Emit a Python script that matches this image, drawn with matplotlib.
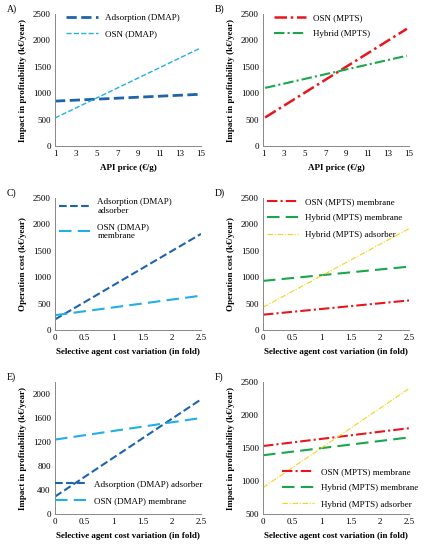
import matplotlib
matplotlib.use("Agg")
import matplotlib.pyplot as plt

plt.rcParams["font.family"] = ["Liberation Serif", "DejaVu Serif"]
plt.rcParams["font.size"] = 6.5
plt.rcParams["legend.labelspacing"] = 0.9

# ---------------------------------------------------------
# Data
# ---------------------------------------------------------
api_x = [1, 15]
a_ads = [850, 980]
a_osn = [530, 1860]

b_x = [1.2, 14.8]
b_osn = [540, 2220]
b_hyb = [1100, 1710]

fold_x = [0, 2.5]
c_ads = [200, 1820]
c_osn = [280, 650]

d_osn = [290, 560]
d_hyb_mem = [930, 1200]
d_hyb_ads = [430, 1920]

e_ads = [290, 1910]
e_osn = [1240, 1600]

f_osn = [1530, 1800]
f_hyb_mem = [1390, 1660]
f_hyb_ads = [900, 2400]

DBLUE = "#1f63ad"
LBLUE = "#22aee6"
RED = "#e8161c"
GREEN = "#1aa64a"
YELLOW = "#f6d21c"

fig = plt.figure(figsize=(4.33, 5.5), dpi=100)
W, H = 433, 550
boxes = [(55, 14, 146, 132), (263, 14, 146, 132),
         (55, 198, 146, 132), (263, 198, 146, 132),
         (55, 382, 146, 132), (263, 382, 146, 132)]
axs = [fig.add_axes([x / W, 1 - (y + h) / H, w / W, h / H]) for x, y, w, h in boxes]


def style(ax, label, xlab, ylab):
    for s in ["top", "right"]:
        ax.spines[s].set_visible(False)
    for s in ["left", "bottom"]:
        ax.spines[s].set_color("#888888")
        ax.spines[s].set_linewidth(0.7)
    ax.tick_params(length=0, labelsize=6.5, pad=3)
    ax.set_xlabel(xlab, fontsize=6.5, fontweight="bold")
    ax.set_ylabel(ylab, fontsize=6.5, fontweight="bold")
    ax.text(-0.33, 1.02, label, transform=ax.transAxes, fontsize=7)


def legend(ax, **kw):
    ax.legend(frameon=False, fontsize=6.5, handlelength=3.5, **kw)


imp = "Impact in profitability (k€/year)"
op = "Operation cost (k€/year)"
sel = "Selective agent cost variation (in fold)"
dd = (0, (5, 1.5, 1, 1.5))
folds = [0, 0.5, 1, 1.5, 2, 2.5]
fold_lbl = ["0", "0.5", "1", "1.5", "2", "2.5"]

ax = axs[0]
ax.plot(api_x, a_ads, "--", color=DBLUE, lw=2, label="Adsorption (DMAP)")
ax.plot(api_x, a_osn, "--", color=LBLUE, lw=1, label="OSN (DMAP)")
ax.set_xlim(1, 15); ax.set_ylim(0, 2500)
ax.set_xticks(range(1, 16, 2))
style(ax, "A)", "API price (€/g)", imp)
legend(ax, loc="upper left", borderaxespad=0, bbox_to_anchor=(0.05, 1.03))

ax = axs[1]
ax.plot(b_x, b_osn, color=RED, lw=1.8, linestyle=dd, label="OSN (MPTS)")
ax.plot(b_x, b_hyb, color=GREEN, lw=1.5, linestyle=dd, label="Hybrid (MPTS)")
ax.set_xlim(1, 15); ax.set_ylim(0, 2500)
ax.set_xticks(range(1, 16, 2))
style(ax, "B)", "API price (€/g)", imp)
legend(ax, loc="upper left", borderaxespad=0, bbox_to_anchor=(0.05, 1.03))

ax = axs[2]
ax.plot(fold_x, c_ads, "--", color=DBLUE, lw=1.5, label="Adsorption (DMAP)\nadsorber")
ax.plot(fold_x, c_osn, color=LBLUE, lw=1.5, linestyle=(0, (6, 3)), label="OSN (DMAP)\nmembrane")
ax.set_xlim(0, 2.5); ax.set_ylim(0, 2500)
ax.set_xticks(folds); ax.set_xticklabels(fold_lbl)
style(ax, "C)", sel, op)
legend(ax, loc="upper left", borderaxespad=0, bbox_to_anchor=(0.0, 1.03))

ax = axs[3]
ax.plot(fold_x, d_osn, color=RED, lw=1.5, linestyle=dd, label="OSN (MPTS) membrane")
ax.plot(fold_x, d_hyb_mem, color=GREEN, lw=1.5, linestyle=(0, (6, 3)), label="Hybrid (MPTS) membrane")
ax.plot(fold_x, d_hyb_ads, color=YELLOW, lw=0.8, linestyle=dd, label="Hybrid (MPTS) adsorber")
ax.set_xlim(0, 2.5); ax.set_ylim(0, 2500)
ax.set_xticks(folds); ax.set_xticklabels(fold_lbl)
style(ax, "D)", sel, op)
legend(ax, loc="upper left", borderaxespad=0, bbox_to_anchor=(0.0, 1.03))

ax = axs[4]
ax.plot(fold_x, e_ads, "--", color=DBLUE, lw=1.5, label="Adsorption (DMAP) adsorber")
ax.plot(fold_x, e_osn, color=LBLUE, lw=1.5, linestyle=(0, (6, 3)), label="OSN (DMAP) membrane")
ax.set_xlim(0, 2.5); ax.set_ylim(0, 2200)
ax.set_yticks(range(0, 2001, 400))
ax.set_xticks(folds); ax.set_xticklabels(fold_lbl)
style(ax, "E)", sel, imp)
legend(ax, loc="lower right", borderaxespad=0.3, bbox_to_anchor=(1.05, 0.02))

ax = axs[5]
ax.plot(fold_x, f_osn, color=RED, lw=1.5, linestyle=dd, label="OSN (MPTS) membrane")
ax.plot(fold_x, f_hyb_mem, color=GREEN, lw=1.5, linestyle=(0, (6, 3)), label="Hybrid (MPTS) membrane")
ax.plot(fold_x, f_hyb_ads, color=YELLOW, lw=0.8, linestyle=dd, label="Hybrid (MPTS) adsorber")
ax.set_xlim(0, 2.5); ax.set_ylim(500, 2500)
ax.set_xticks(folds); ax.set_xticklabels(fold_lbl)
style(ax, "F)", sel, imp)
legend(ax, loc="lower right", borderaxespad=0.2, bbox_to_anchor=(1.1, 0.0))

fig.savefig("out.png", dpi=100)
